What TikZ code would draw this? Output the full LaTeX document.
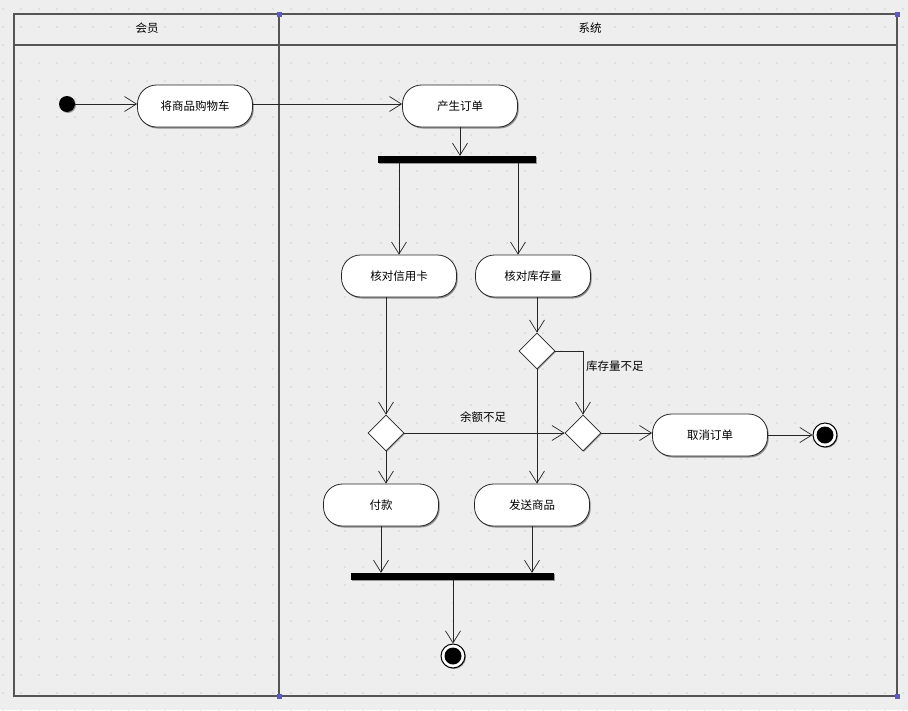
\documentclass[tikz,border=0pt]{standalone}
\usepackage{fontspec}
\newfontfamily\cjk{Noto Sans CJK SC}
\usetikzlibrary{arrows.meta,shapes.geometric,shadows}
\definecolor{bgc}{HTML}{EEEEEE}
\definecolor{dotc}{HTML}{AFAFAF}
\definecolor{framec}{HTML}{555555}
\definecolor{handle}{HTML}{5A5ABF}
\begin{document}
\begin{tikzpicture}[x=1pt,y=-1pt,
  act/.style={draw=black!85, fill=white, line width=0.8pt, rounded corners=19pt,
    minimum width=115pt, minimum height=42pt, inner sep=0pt,
    font=\cjk\fontsize{11.5}{13}\selectfont,
    drop shadow={shadow xshift=1.2pt, shadow yshift=-1.5pt, fill=black!45, opacity=1}},
  dec/.style={diamond, draw=black!85, fill=white, line width=0.8pt, minimum size=36pt, inner sep=0pt,
    drop shadow={shadow xshift=1pt, shadow yshift=-1pt, fill=black!40, opacity=1}},
  barnode/.style={fill=black, minimum height=7pt, inner sep=0pt,
    drop shadow={shadow xshift=1pt, shadow yshift=-1pt, fill=black!40, opacity=1}},
  arr/.style={-{Straight Barb[length=12pt,width=15pt,line width=0.7pt]}, draw=black!85, line width=0.8pt},
  lbl/.style={font=\cjk\fontsize{11.5}{13}\selectfont, inner sep=1pt},
  hdr/.style={font=\cjk\fontsize{11.5}{13}\selectfont, inner sep=1pt},
  finalnode/.style={circle, draw=black, fill=white, line width=1pt, minimum size=24pt, inner sep=0pt,
    drop shadow={shadow xshift=1pt, shadow yshift=-1pt, fill=black!40, opacity=1}},
  handlebox/.style={fill=handle, minimum size=5pt, inner sep=0pt}
]
% background
\fill[bgc] (0,0) rectangle (908,710);
\useasboundingbox (0,0) rectangle (908,710);
% dot grid
\foreach \i in {0,...,50}{
  \foreach \j in {0,...,39}{
    \fill[dotc] ({3+18*\i},{9+18*\j}) circle (0.7pt);
  }
}
% swimlane frame
\draw[framec, line width=1.3pt] (14,14) rectangle (897,696);
\draw[framec, line width=1.3pt] (14,45) -- (897,45);
\draw[framec, line width=1.3pt] (279,14) -- (279,696);
\node[handlebox] (h1) at (279,14) {};
\node[handlebox] (h2) at (897,14) {};
\node[handlebox] (h3) at (279,696) {};
\node[handlebox] (h4) at (897,696) {};
\node[hdr] (lane1) at (147,28) {会员};
\node[hdr] (lane2) at (590,28) {系统};

% nodes
\node[circle, fill=black, minimum size=16pt, inner sep=0pt,
  drop shadow={shadow xshift=1pt, shadow yshift=-1pt, fill=black!40, opacity=1}] (init) at (67,104) {};
\node[act] (a1) at (195,106) {将商品购物车};
\node[act] (a2) at (460,106) {产生订单};
\node[barnode, minimum width=158pt] (fork) at (457,159.5) {};
\node[act] (c1) at (399,276) {核对信用卡};
\node[act] (c2) at (533,276) {核对库存量};
\node[dec] (d1) at (537,351) {};
\node[dec] (d2) at (386,433) {};
\node[dec] (d3) at (583,433) {};
\node[act] (a3) at (710,435) {取消订单};
\node[finalnode] (end1) at (825,435) {};
\fill[black] (end1) circle (8.5pt);
\node[act] (b1) at (381,505) {付款};
\node[act] (b2) at (532,505) {发送商品};
\node[barnode, minimum width=203pt] (join) at (452.5,576.5) {};
\node[finalnode] (end2) at (453,656) {};
\fill[black] (end2) circle (8.5pt);

% connectors
\draw[arr] (init) -- (a1.west |- init);
\draw[arr] (a1.east |- init) -- (a2.west |- init);
\draw[arr] (a2.south) -- (a2.south |- fork.north);
\draw[arr] (fork.south -| c1) -- (c1.north);
\draw[arr] ([xshift=-15pt]c2.north |- fork.south) -- ([xshift=-15pt]c2.north);
\draw[arr] (c1.south -| d2) -- (d2.north);
\draw[arr] (c2.south -| d1) -- (d1.north);
\draw[arr] (d1.east) -- (d1.east -| d3) -- (d3.north);
\node[lbl, anchor=west] (l1) at (585,366) {库存量不足};
\draw[arr] (d2.east) -- (d3.west);
\node[lbl] (l2) at (483,417) {余额不足};
\draw[arr] (d3.east) -- (a3.west |- d3.east);
\draw[arr] (a3.east) -- (end1.west);
\draw[arr] (d2.south) -- (d2.south |- b1.north);
\draw[arr] (d1.south) -- (d1.south |- b2.north);
\draw[arr] (b1.south) -- (b1.south |- join.north);
\draw[arr] (b2.south) -- (b2.south |- join.north);
\draw[arr] (join.south -| end2) -- (end2.north);
\end{tikzpicture}
\end{document}
